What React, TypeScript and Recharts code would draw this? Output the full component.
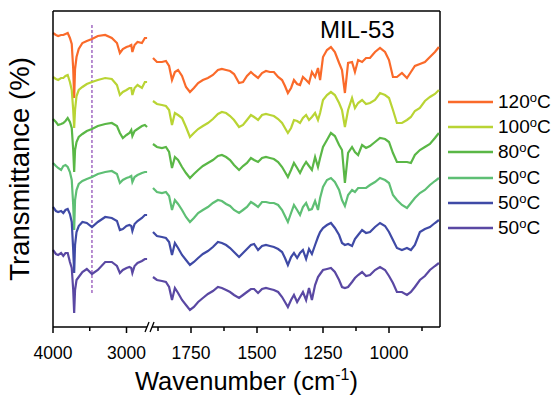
import React from 'react';
import { LineChart, Line, XAxis, YAxis, ReferenceLine, ReferenceDot, Legend } from 'recharts';

const FONT = '"Liberation Sans", Arial, Helvetica, sans-serif';

// wavenumbers (cm-1) left of the axis break
const WN_HIGH = [
  4000, 3960, 3930, 3890, 3860, 3830, 3800, 3770, 3745, 3725,
  3712, 3700, 3680, 3650, 3600, 3540, 3470, 3390, 3290, 3200,
  3130, 3090, 3050, 3000, 2960, 2935, 2920, 2890, 2850, 2790,
  2750, 2720,
];

// wavenumbers (cm-1) right of the axis break
const WN_LOW = [
  1894, 1879, 1860, 1845, 1833, 1822, 1811, 1799, 1784, 1769,
  1754, 1739, 1723, 1705, 1686, 1667, 1648, 1633, 1617, 1602,
  1587, 1568, 1553, 1538, 1523, 1511, 1496, 1481, 1466, 1451,
  1436, 1420, 1405, 1394, 1383, 1371, 1360, 1348, 1337, 1326,
  1314, 1303, 1292, 1280, 1269, 1261, 1250, 1235, 1220, 1205,
  1189, 1178, 1167, 1155, 1140, 1129, 1117, 1102, 1087, 1072,
  1053, 1034, 1015, 1000, 985, 970, 951, 932, 917, 902,
  883, 864, 845, 826, 811,
];

// stacked transmittance (offset, arbitrary units)
const T120_HIGH = [294, 292, 291, 292, 292, 293, 294, 289, 283, 258, 229, 258, 270, 278, 284, 286, 288, 291, 292, 289, 284, 274, 278, 280, 281, 282, 275, 282, 285, 284, 289, 289];
const T120_LOW = [
  269, 265, 265, 266, 261, 247, 255, 257, 251, 240,
  235, 239, 244, 247, 249, 252, 257, 258, 257, 256,
  253, 244, 245, 251, 255, 252, 249, 254, 256, 255,
  255, 250, 247, 241, 234, 239, 247, 243, 242, 250,
  247, 244, 255, 250, 259, 247, 270, 277, 280, 275,
  264, 257, 234, 264, 265, 255, 267, 265, 269, 269,
  275, 279, 275, 267, 250, 250, 254, 249, 255, 261,
  263, 265, 270, 275, 280,
];

const T100_HIGH = [250, 248, 247, 249, 249, 251, 252, 245, 237, 217, 199, 217, 231, 237, 240, 243, 245, 247, 249, 248, 242, 232, 235, 237, 239, 239, 232, 239, 242, 239, 245, 245];
const T100_LOW = [
  226, 223, 222, 221, 217, 202, 214, 212, 209, 200,
  190, 194, 198, 201, 204, 208, 213, 215, 214, 211,
  207, 200, 202, 207, 212, 210, 207, 212, 213, 212,
  211, 208, 204, 199, 194, 199, 207, 206, 204, 209,
  212, 207, 210, 214, 207, 214, 227, 232, 235, 232,
  224, 217, 200, 217, 229, 219, 224, 227, 223, 224,
  227, 234, 232, 229, 217, 204, 204, 207, 210, 216,
  219, 226, 230, 233, 237,
];

const T80_HIGH = [208, 205, 202, 203, 204, 206, 209, 205, 199, 177, 155, 177, 185, 190, 193, 196, 198, 201, 203, 204, 201, 194, 189, 192, 194, 197, 191, 196, 198, 201, 202, 200];
const T80_LOW = [
  183, 180, 179, 180, 175, 159, 170, 167, 160, 154,
  149, 153, 157, 161, 164, 167, 171, 172, 170, 167,
  162, 157, 161, 164, 169, 167, 165, 169, 170, 169,
  168, 165, 160, 155, 150, 157, 164, 159, 154, 160,
  165, 161, 157, 170, 160, 169, 180, 187, 194, 191,
  182, 177, 144, 174, 180, 175, 172, 182, 179, 181,
  185, 189, 188, 185, 174, 165, 165, 165, 164, 172,
  177, 180, 183, 189, 194,
];

const T50A_HIGH = [164, 161, 159, 157, 161, 162, 160, 155, 147, 122, 97, 127, 137, 143, 146, 148, 150, 153, 155, 156, 153, 144, 147, 149, 150, 151, 145, 150, 152, 154, 155, 155];
const T50A_LOW = [
  139, 135, 134, 135, 131, 117, 127, 123, 117, 110,
  105, 109, 114, 117, 120, 124, 127, 126, 123, 121,
  117, 114, 117, 120, 125, 123, 120, 125, 125, 124,
  124, 122, 117, 111, 105, 114, 122, 117, 112, 120,
  124, 117, 118, 126, 117, 129, 140, 147, 149, 145,
  137, 127, 121, 132, 137, 135, 139, 139, 139, 142,
  145, 149, 147, 144, 132, 127, 122, 119, 124, 129,
  134, 137, 142, 146, 149,
];

const T50B_HIGH = [120, 116, 115, 116, 114, 117, 118, 113, 105, 77, 54, 82, 95, 101, 105, 104, 100, 105, 110, 109, 106, 97, 98, 101, 102, 101, 96, 103, 106, 109, 112, 112];
const T50B_LOW = [
  95, 91, 90, 89, 85, 72, 84, 79, 72, 67,
  62, 65, 69, 73, 76, 80, 85, 84, 82, 79,
  75, 70, 74, 78, 82, 83, 77, 81, 82, 81,
  80, 78, 75, 69, 62, 70, 74, 69, 74, 77,
  68, 78, 73, 82, 90, 95, 99, 102, 104, 99,
  92, 84, 82, 83, 81, 88, 92, 97, 94, 95,
  100, 104, 101, 95, 87, 79, 77, 79, 77, 82,
  95, 98, 100, 104, 107,
];

const T50C_HIGH = [77, 73, 72, 74, 71, 74, 74, 65, 59, 37, 14, 37, 47, 50, 55, 58, 53, 57, 65, 65, 61, 54, 57, 59, 60, 59, 54, 61, 64, 66, 68, 68];
const T50C_LOW = [
  50, 47, 46, 45, 40, 27, 39, 34, 27, 22,
  17, 20, 25, 29, 33, 36, 40, 39, 37, 35,
  32, 29, 32, 35, 38, 38, 34, 38, 39, 38,
  37, 35, 30, 25, 20, 27, 32, 25, 30, 35,
  27, 39, 27, 42, 50, 53, 57, 58, 59, 55,
  47, 40, 39, 40, 45, 49, 52, 55, 51, 52,
  57, 60, 57, 51, 44, 35, 35, 32, 35, 40,
  47, 51, 57, 61, 64,
];

const KEYS = ['t120', 't100', 't80', 't50a', 't50b', 't50c'];
const NAMES = ['120°C', '100°C', '80°C', '50°C', '50°C', '50°C'];
const COLORS = ['#FA6A2A', '#B9D434', '#5AB746', '#5EBF74', '#3F4AA6', '#5A48A3'];
const HIGH = [T120_HIGH, T100_HIGH, T80_HIGH, T50A_HIGH, T50B_HIGH, T50C_HIGH];
const LOW = [T120_LOW, T100_LOW, T80_LOW, T50A_LOW, T50B_LOW, T50C_LOW];

const TICK_WN = [4000, 3500, 3000, 1875, 1750, 1625, 1500, 1375, 1250, 1125, 1000, 875];
const MAJOR_WN = [4000, 3000, 1750, 1500, 1250, 1000];
const MARKER_WN = 3470; // dashed guide line

// broken axis: two linear pieces laid side by side on one numeric axis
const toPos = (wn: number) =>
  wn > 2300 ? (4000 - wn) * 0.0735 : 138 + (1750 - wn) * 0.264;
const X_MAX = 387;
const Y_MAX = 316;
const BREAK_POS = (toPos(WN_HIGH[WN_HIGH.length - 1]) + toPos(WN_LOW[0])) / 2;

const rowFor = (wn: number, i: number, sets: number[][]) => {
  const row: any = { pos: toPos(wn), wn };
  KEYS.forEach((k, s) => { row[k] = sets[s][i]; });
  return row;
};

const data = [
  ...WN_HIGH.map((wn, i) => rowFor(wn, i, HIGH)),
  { pos: BREAK_POS, t120: null, t100: null, t80: null, t50a: null, t50b: null, t50c: null },
  ...WN_LOW.map((wn, i) => rowFor(wn, i, LOW)),
];

const XTick = (props: any) => {
  const { x, y, payload } = props;
  const wn = TICK_WN.find(w => Math.abs(toPos(w) - payload.value) < 0.01);
  const major = MAJOR_WN.includes(wn as number);
  return (
    <g>
      <line x1={x} x2={x} y1={y} y2={y + (major ? 6 : 4)} stroke="#000" strokeWidth={1.5} />
      {major && (
        <text x={x} y={y + 32} textAnchor="middle" fontFamily={FONT} fontSize={17.5} fill="#000">
          {wn}
        </text>
      )}
    </g>
  );
};

const XTitle = (props: any) => {
  const vb = props.viewBox;
  return (
    <text x={vb.x + vb.width / 2} y={vb.y + 63} textAnchor="middle" fontFamily={FONT} fontSize={25.5} fill="#000">
      Wavenumber (cm<tspan fontSize={16} dy={-10}>-1</tspan><tspan dy={10}>)</tspan>
    </text>
  );
};

const YTitle = (props: any) => {
  const vb = props.viewBox;
  const cx = vb.x + 29;
  const cy = vb.y + vb.height / 2;
  return (
    <text transform={`translate(${cx}, ${cy}) rotate(-90)`} textAnchor="middle" fontFamily={FONT} fontSize={27.5} fill="#000">
      Transmittance (%)
    </text>
  );
};

const BreakMark = (props: any) => {
  const { cx, cy } = props;
  return (
    <g>
      <rect x={cx - 3} y={cy - 2} width={5} height={4} fill="#fff" />
      <line x1={cx - 5} y1={cy + 5} x2={cx - 1} y2={cy - 5} stroke="#000" strokeWidth={1.3} />
      <line x1={cx} y1={cy + 5} x2={cx + 4} y2={cy - 5} stroke="#000" strokeWidth={1.3} />
    </g>
  );
};

const renderLegend = (props: any) => {
  const items = [...(props.payload || [])].sort(
    (a: any, b: any) => KEYS.indexOf(a.dataKey) - KEYS.indexOf(b.dataKey)
  );
  return (
    <div style={{ fontFamily: FONT, fontSize: 19, color: '#000' }}>
      {items.map((entry: any, i: number) => (
        <div key={i} style={{ display: 'flex', alignItems: 'center', height: 25.3 }}>
          <svg width={45} height={4} style={{ display: 'block' }}>
            <line x1={0} y1={2} x2={45} y2={2} stroke={entry.color} strokeWidth={2.5} />
          </svg>
          <span style={{ marginLeft: 5, whiteSpace: 'nowrap' }}>
            {String(entry.value).replace('°C', '')}
            <span style={{ fontSize: 13, position: 'relative', top: -6 }}>o</span>C
          </span>
        </div>
      ))}
    </div>
  );
};

export default function App() {
  return (
    <div style={{ position: 'absolute', left: 0, top: 0, width: 554, height: 395, background: '#fff' }}>
      <LineChart width={554} height={395} data={data} margin={{ top: 11, right: 114, bottom: 0, left: 0 }}>
        <XAxis
          type="number"
          dataKey="pos"
          domain={[0, X_MAX]}
          ticks={TICK_WN.map(toPos)}
          interval={0}
          tick={<XTick />}
          tickLine={false}
          tickSize={0}
          tickMargin={0}
          height={68}
          axisLine={{ stroke: '#000', strokeWidth: 1.5 }}
          label={XTitle}
        />
        <YAxis
          type="number"
          domain={[0, Y_MAX]}
          width={53}
          tick={false}
          tickLine={false}
          axisLine={{ stroke: '#000', strokeWidth: 1.5 }}
          label={YTitle}
        />
        <ReferenceLine y={Y_MAX} stroke="#000" strokeWidth={1.5} />
        <ReferenceLine x={X_MAX} stroke="#000" strokeWidth={1.5} />
        <ReferenceLine
          segment={[{ x: toPos(MARKER_WN), y: 302 }, { x: toPos(MARKER_WN), y: 32 }]}
          stroke="#A26AC2"
          strokeWidth={1.5}
          strokeDasharray="3 2"
        />
        {KEYS.map((k, s) => (
          <Line
            key={k}
            type="linear"
            dataKey={k}
            name={NAMES[s]}
            stroke={COLORS[s]}
            strokeWidth={2.2}
            dot={false}
            isAnimationActive={false}
          />
        ))}
        <ReferenceDot x={BREAK_POS} y={0} r={0} shape={BreakMark} ifOverflow="visible" zIndex={1500} />
        <Legend
          layout="horizontal"
          verticalAlign="middle"
          align="center"
          content={renderLegend}
          wrapperStyle={{ left: 448, top: 89, width: 106 }}
        />
      </LineChart>
      <div
        style={{
          position: 'absolute', left: 320, top: 18, fontFamily: FONT, fontSize: 24,
          lineHeight: '24px', color: '#000', whiteSpace: 'nowrap',
        }}
      >
        MIL-53
      </div>
    </div>
  );
}
